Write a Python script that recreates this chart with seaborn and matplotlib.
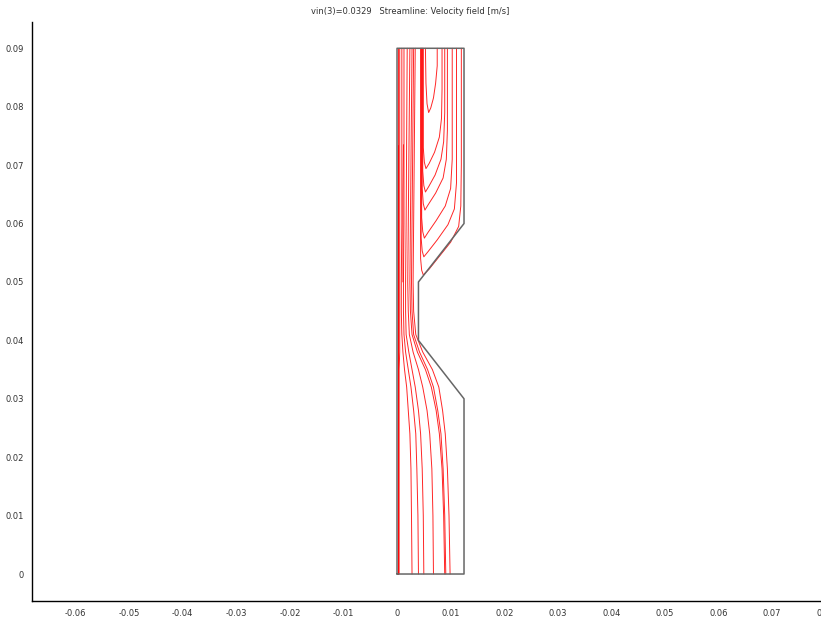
import numpy as np
import pandas as pd
import matplotlib
matplotlib.use("Agg")
import matplotlib.pyplot as plt
import seaborn as sns

# ---- data ----
title_text = "vin(3)=0.0329   Streamline: Velocity field [m/s]"
x_ticks = [-0.06, -0.05, -0.04, -0.03, -0.02, -0.01, 0, 0.01, 0.02, 0.03, 0.04, 0.05, 0.06, 0.07, 0.08]
x_tick_labels = ["-0.06", "-0.05", "-0.04", "-0.03", "-0.02", "-0.01", "0", "0.01", "0.02",
                 "0.03", "0.04", "0.05", "0.06", "0.07", "0.08"]
y_ticks = [0, 0.01, 0.02, 0.03, 0.04, 0.05, 0.06, 0.07, 0.08, 0.09]
y_tick_labels = ["0", "0.01", "0.02", "0.03", "0.04", "0.05", "0.06", "0.07", "0.08", "0.09"]

# geometry boundary (channel with constriction)
wall_x = [0.0, 0.0125, 0.0125, 0.004, 0.004, 0.0125, 0.0125, 0.0, 0.0]
wall_y = [0.0, 0.0, 0.03, 0.04, 0.05, 0.06, 0.09, 0.09, 0.0]

# through-flow streamlines (bottom -> constriction -> top)
through_y = [0.0, 0.010, 0.018, 0.024, 0.028, 0.032, 0.035, 0.038, 0.041, 0.045, 0.050, 0.060, 0.090]
through_lines = {
    "t1": [0.0002, 0.0002, 0.0002, 0.0002, 0.0002, 0.0002, 0.0002, 0.0002, 0.0002, 0.0002, 0.0002, 0.0002, 0.0002],
    "t2": [0.0004, 0.0004, 0.0004, 0.0004, 0.0004, 0.0004, 0.0004, 0.0005, 0.0005, 0.0005, 0.0005, 0.0005, 0.0005],
    "t3": [0.0028, 0.0027, 0.0026, 0.0024, 0.0021, 0.0018, 0.0014, 0.0011, 0.0009, 0.0008, 0.0008, 0.0009, 0.0009],
    "t4": [0.0040, 0.0039, 0.0037, 0.0035, 0.0031, 0.0026, 0.0021, 0.0016, 0.0013, 0.0012, 0.0012, 0.0013, 0.0013],
    "t5": [0.0050, 0.0049, 0.0047, 0.0044, 0.0040, 0.0034, 0.0028, 0.0022, 0.0017, 0.0016, 0.0016, 0.0017, 0.0019],
    "t6": [0.0068, 0.0067, 0.0065, 0.0061, 0.0056, 0.0048, 0.0040, 0.0030, 0.0023, 0.0021, 0.0020, 0.0021, 0.0024],
    "t7": [0.0089, 0.0087, 0.0084, 0.0079, 0.0073, 0.0064, 0.0053, 0.0038, 0.0028, 0.0025, 0.0024, 0.0025, 0.0028],
    "t8": [0.0091, 0.0089, 0.0086, 0.0082, 0.0076, 0.0068, 0.0057, 0.0042, 0.0031, 0.0028, 0.0027, 0.0028, 0.0031],
    "t9": [0.0099, 0.0097, 0.0094, 0.0090, 0.0085, 0.0078, 0.0066, 0.0048, 0.0035, 0.0031, 0.0030, 0.0031, 0.0034],
}

# near-wall streamlines starting mid-height
wall_line_x = [0.00012, 0.00012]
wall_line_y = [0.0735, 0.0]
short_line_x = [0.0012, 0.0011, 0.0011]
short_line_y = [0.0735, 0.065, 0.050]

# recirculation streamlines in upper chamber (down left arm, up right arm)
u1_x = [0.0053, 0.0054, 0.0056, 0.0059, 0.0063, 0.0068, 0.0072, 0.0075, 0.0075]
u1_y = [0.0900, 0.0840, 0.0805, 0.0790, 0.0798, 0.0815, 0.0840, 0.0870, 0.0900]
u2_x = [0.0049, 0.0049, 0.0051, 0.0054, 0.0060, 0.0070, 0.0079, 0.0083, 0.0084, 0.0084]
u2_y = [0.0900, 0.0730, 0.0705, 0.0694, 0.0703, 0.0722, 0.0748, 0.0780, 0.0830, 0.0900]
u3_x = [0.0048, 0.0048, 0.0050, 0.0053, 0.0059, 0.0071, 0.0082, 0.0087, 0.0089, 0.0089]
u3_y = [0.0900, 0.0690, 0.0665, 0.0654, 0.0663, 0.0683, 0.0710, 0.0740, 0.0790, 0.0900]
u4_x = [0.0047, 0.0047, 0.0049, 0.0052, 0.0058, 0.0072, 0.0086, 0.0092, 0.0094, 0.0094]
u4_y = [0.0900, 0.0660, 0.0634, 0.0623, 0.0632, 0.0652, 0.0678, 0.0710, 0.0760, 0.0900]
u5_x = [0.0046, 0.0046, 0.0048, 0.0051, 0.0058, 0.0073, 0.0090, 0.0100, 0.0103, 0.0103]
u5_y = [0.0900, 0.0610, 0.0586, 0.0575, 0.0585, 0.0605, 0.0630, 0.0660, 0.0710, 0.0900]
u6_x = [0.0045, 0.0045, 0.0047, 0.0050, 0.0058, 0.0075, 0.0095, 0.0107, 0.0111, 0.0111]
u6_y = [0.0900, 0.0575, 0.0553, 0.0543, 0.0552, 0.0572, 0.0598, 0.0625, 0.0670, 0.0900]
u7_x = [0.0044, 0.0044, 0.0046, 0.0049, 0.0060, 0.0080, 0.0100, 0.0115, 0.0119, 0.0120, 0.0120]
u7_y = [0.0900, 0.0540, 0.0520, 0.0512, 0.0522, 0.0545, 0.0568, 0.0595, 0.0630, 0.0700, 0.0900]

# ---- build long table ----
rows = []
def add(name, xs, ys):
    for i, (a, b) in enumerate(zip(xs, ys)):
        rows.append({"line": name, "order": i, "x": a, "y": b})

for k, xs in through_lines.items():
    add(k, xs, through_y)
add("w1", wall_line_x, wall_line_y)
add("w2", short_line_x, short_line_y)
for name, xs, ys in [("u1", u1_x, u1_y), ("u2", u2_x, u2_y), ("u3", u3_x, u3_y),
                     ("u4", u4_x, u4_y), ("u5", u5_x, u5_y), ("u6", u6_x, u6_y),
                     ("u7", u7_x, u7_y)]:
    add(name, xs, ys)
df = pd.DataFrame(rows)
walls = pd.DataFrame({"x": wall_x, "y": wall_y, "order": range(len(wall_x))})

sns.set_style("white")
plt.rcParams["font.family"] = ["DejaVu Sans"]

W, H = 821, 617
fig = plt.figure(figsize=(W / 100, H / 100), dpi=100)
xl = (-0.0681, 0.085)
yl = (-0.00462, 0.0945)
ax_w_px = (xl[1] - xl[0]) * 5360
ax = fig.add_axes([32 / W, 16 / H, ax_w_px / W, (601 - 22) / H])

sns.lineplot(data=df, x="x", y="y", units="line", estimator=None, sort=False,
             color="#ff0000", linewidth=0.7, alpha=0.85, ax=ax, legend=False)
sns.lineplot(data=walls, x="x", y="y", estimator=None, sort=False,
             color="#666666", linewidth=1.1, ax=ax, legend=False)

ax.set_xlim(*xl)
ax.set_ylim(*yl)
ax.set_xlabel("")
ax.set_ylabel("")
ax.set_xticks(x_ticks)
ax.set_xticklabels(x_tick_labels)
ax.set_yticks(y_ticks)
ax.set_yticklabels(y_tick_labels)
ax.tick_params(axis="both", length=0, labelsize=6, colors="#333333", pad=6)
for s in ["top", "right"]:
    ax.spines[s].set_visible(False)
for s in ["left", "bottom"]:
    ax.spines[s].set_color("black")
    ax.spines[s].set_linewidth(1.0)

fig.text(0.5, 1 - 11 / H, title_text, ha="center", va="center", fontsize=6, color="#333333")

fig.savefig("out.png", dpi=100)
